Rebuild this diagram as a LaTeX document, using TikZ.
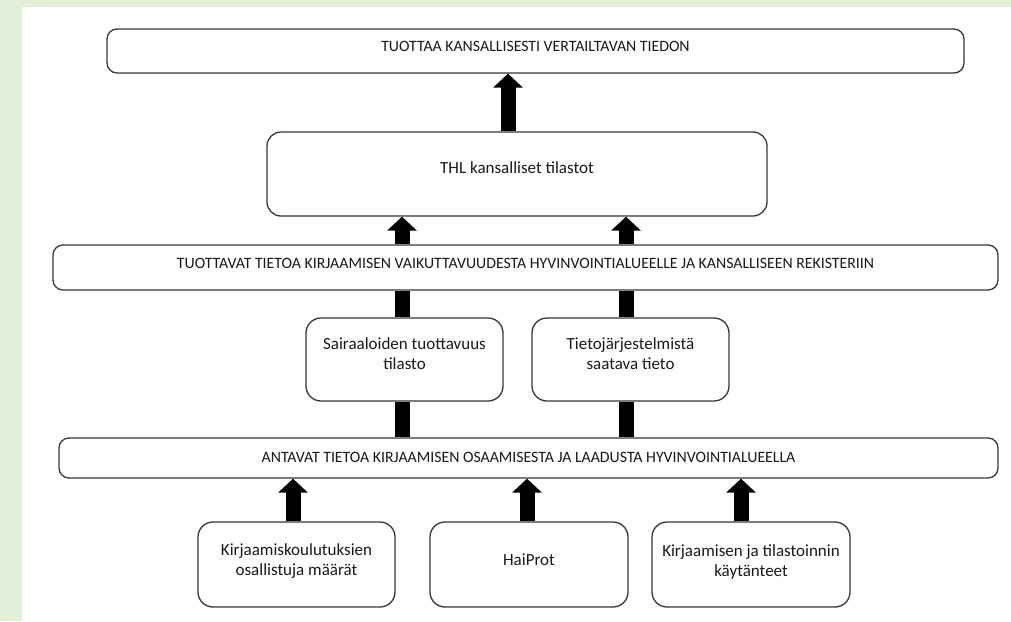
\documentclass[tikz,border=0pt]{standalone}
\usepackage{fontspec}
\setmainfont{Carlito}
\usetikzlibrary{arrows.meta}
\definecolor{bggreen}{RGB}{226,239,217}
\definecolor{edge}{RGB}{55,55,55}
\definecolor{ink}{RGB}{25,25,25}
\begin{document}
\begin{tikzpicture}[x=1pt,y=-1pt,
  box/.style={draw=edge, line width=1.3pt, fill=white, rounded corners=#1, inner sep=0pt},
  box/.default=10pt,
  captxt/.style={font=\fontsize{15.8}{18}\selectfont, text=ink, inner sep=0pt},
  lowtxt/.style={font=\fontsize{17}{20}\selectfont, align=center, text=ink, inner sep=0pt},
  uparrow/.style={line width=15pt, -{Triangle[width=29pt,length=14pt]}},
  bar/.style={line width=15pt}]
\fill[bggreen] (0,0) rectangle (1011,621);
\fill[white] (22,7) rectangle (1011,621);
\useasboundingbox (0,0) rectangle (1011,621);

% boxes
\node[box, minimum width=857pt, minimum height=44pt] (top) at (535.5,51) {};
\node[box=14pt, minimum width=500pt, minimum height=84pt] (thl) at (517,174) {};
\node[box, minimum width=945pt, minimum height=45pt] (tuo) at (525.5,267.5) {};
\node[box=15pt, minimum width=197pt, minimum height=83pt] (sai) at (404.5,359.5) {};
\node[box=15pt, minimum width=197pt, minimum height=83pt] (tie) at (630.5,359.5) {};
\node[box, minimum width=939pt, minimum height=40pt] (ant) at (528.5,458) {};
\node[box=15pt, minimum width=197pt, minimum height=85pt] (kou) at (296.5,564.5) {};
\node[box=15pt, minimum width=198pt, minimum height=85pt] (hai) at (529,564.5) {};
\node[box=15pt, minimum width=198pt, minimum height=85pt] (kay) at (751,564.5) {};

% texts
\node[captxt] at ([yshift=5pt]top.center) {TUOTTAA KANSALLISESTI VERTAILTAVAN TIEDON};
\node[lowtxt] at ([yshift=6pt]thl.center) {THL kansalliset tilastot};
\node[captxt] at ([yshift=4.5pt]tuo.center) {TUOTTAVAT TIETOA KIRJAAMISEN VAIKUTTAVUUDESTA HYVINVOINTIALUEELLE JA KANSALLISEEN REKISTERIIN};
\node[lowtxt] at ([yshift=6pt]sai.center) {Sairaaloiden tuottavuus\\tilasto};
\node[lowtxt] at ([yshift=6pt]tie.center) {Tietojärjestelmistä\\saatava tieto};
\node[captxt] at ([yshift=1pt]ant.center) {ANTAVAT TIETOA KIRJAAMISEN OSAAMISESTA JA LAADUSTA HYVINVOINTIALUEELLA};
\node[lowtxt] at ([yshift=3pt]kou.center) {Kirjaamiskoulutuksien\\osallistuja määrät};
\node[lowtxt] at ([yshift=5pt]hai.center) {HaiProt};
\node[lowtxt] at ([yshift=3pt]kay.center) {Kirjaamisen ja tilastoinnin\\käytänteet};

% arrow columns
\coordinate (c1) at (508,0);
\coordinate (c2) at (402,0);
\coordinate (c3) at (626,0);
\coordinate (c4) at (293,0);
\coordinate (c5) at (527,0);
\coordinate (c6) at (741,0);

\draw[uparrow] (c1 |- thl.north) -- (c1 |- top.south);
\draw[uparrow] (c2 |- tuo.north) -- (c2 |- thl.south);
\draw[uparrow] (c3 |- tuo.north) -- (c3 |- thl.south);
\draw[bar] (c2 |- sai.north) -- (c2 |- tuo.south);
\draw[bar] (c3 |- tie.north) -- (c3 |- tuo.south);
\draw[bar] (c2 |- ant.north) -- (c2 |- sai.south);
\draw[bar] (c3 |- ant.north) -- (c3 |- tie.south);
\draw[uparrow] (c4 |- kou.north) -- (c4 |- ant.south);
\draw[uparrow] (c5 |- hai.north) -- (c5 |- ant.south);
\draw[uparrow] (c6 |- kay.north) -- (c6 |- ant.south);
\end{tikzpicture}
\end{document}
